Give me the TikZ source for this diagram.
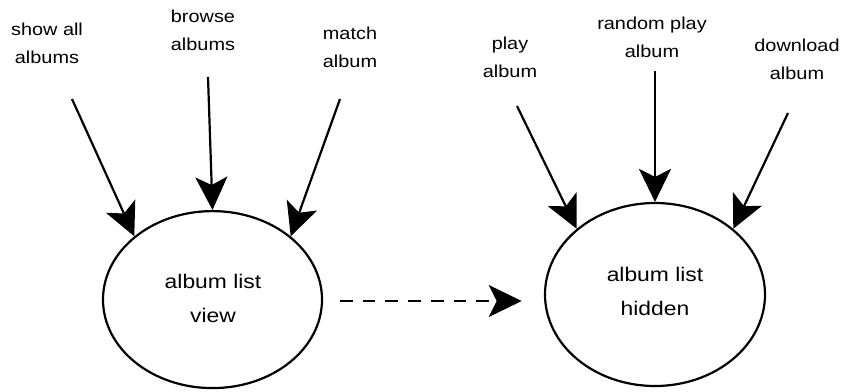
\documentclass[tikz,border=0pt]{standalone}
\usepackage{fontspec}
\usetikzlibrary{arrows.meta,shapes.geometric}
\newfontfamily\labfont[FakeStretch=1.15]{Liberation Sans}
\newfontfamily\elfont[FakeStretch=1.16]{Liberation Sans}
\begin{document}
\begin{tikzpicture}[x=1pt,y=-1pt,
  lab/.style={font=\labfont\fontsize{17.3}{27.6}\selectfont, align=center, inner sep=0pt},
  eltext/.style={font=\elfont\fontsize{19.7}{33.7}\selectfont, align=center, inner sep=0pt},
  state/.style={ellipse, draw, line width=2.2pt, inner sep=0pt},
  arr/.style={line width=2.2pt, -{Stealth[length=33pt, width=32pt, inset=8pt]}},
  darr/.style={arr, dash pattern=on 12.7pt off 10pt}]
\useasboundingbox (0,0) rectangle (842,391);
% ellipses
\node[state, minimum width=219pt, minimum height=177pt] (lv) at (212.5,299.6) {};
\node[state, minimum width=220pt, minimum height=183pt] (lh) at (655,294.5) {};
\node[eltext] (lvt) at (213,298.8) {album list\\view};
\node[eltext] (lht) at (655,291.8) {album list\\hidden};
% labels
\node[lab] (l1) at (47,43.3) {show all\\albums};
\node[lab] (l2) at (203,30.6) {browse\\albums};
\node[lab] (l3) at (350,47.1) {match\\album};
\node[lab] (l4) at (510,57.6) {play\\album};
\node[lab] (l5) at (652,37.6) {random play\\album};
\node[lab] (l6) at (797,59.6) {download\\album};
% arrow starts
\coordinate (s1) at (72,99);
\coordinate (s2) at (208,77);
\coordinate (s3) at (340,99);
\coordinate (s4) at (517,106);
\coordinate (s5) at (655,71);
\coordinate (s6) at (788,113);
\draw[arr] (s1) -- (lv.141);
\draw[arr] (s2) -- (lv.90);
\draw[arr] (s3) -- (lv.39);
\draw[arr] (s4) -- (lh.140);
\draw[arr] (s5) -- (lh.90);
\draw[arr] (s6) -- (lh.40);
% dashed transition
\coordinate (d1) at (340,301);
\coordinate (d2) at (521.7,301);
\draw[darr] (d1) -- (d2);
\end{tikzpicture}
\end{document}
